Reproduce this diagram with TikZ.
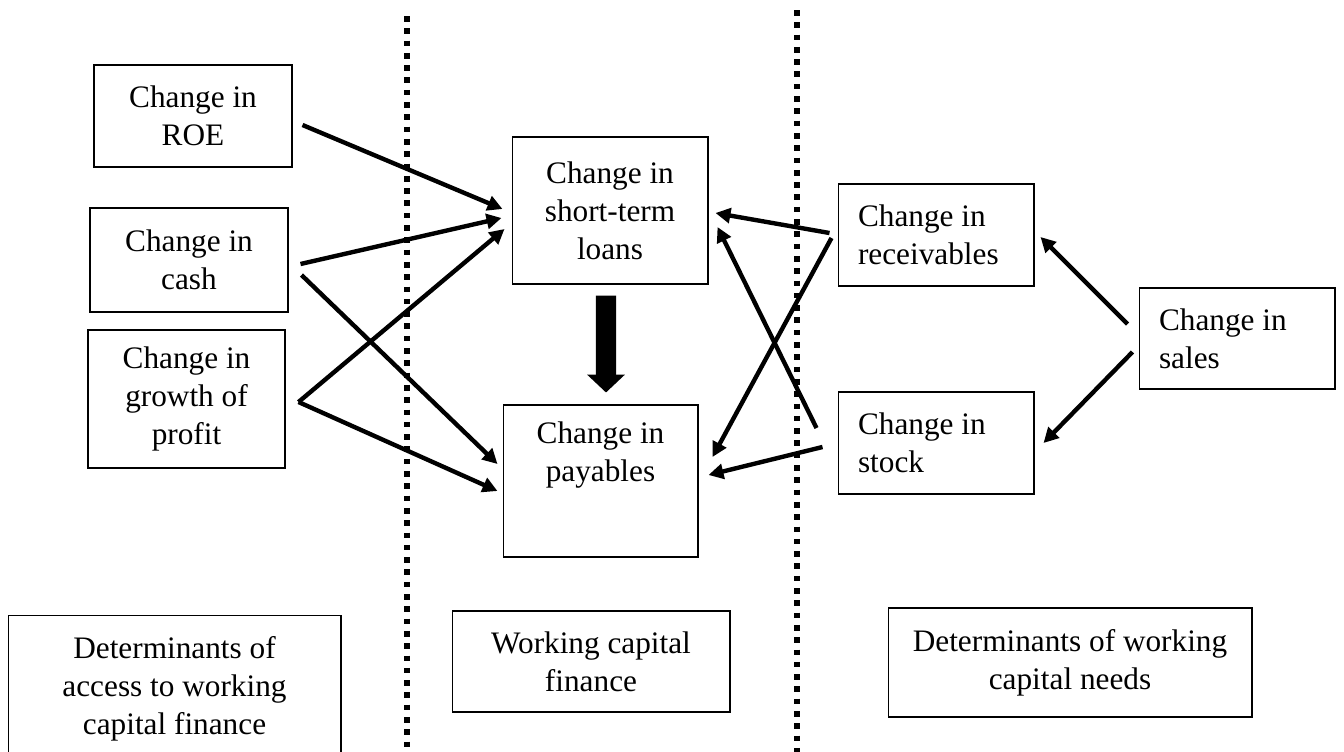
\documentclass[tikz,border=0pt]{standalone}
\usepackage{fontspec}
\setmainfont{Liberation Serif}
\usetikzlibrary{arrows.meta}
\begin{document}
\begin{tikzpicture}[x=0.02cm,y=-0.02cm,
  box/.style={draw=black, line width=0.6pt, inner sep=0pt, align=center,
    font=\fontsize{17.8}{21.6}\selectfont},
  rbox/.style={box, align=flush left, text width=3.12cm, inner xsep=0.4cm},
  txt/.style={inner sep=0pt, align=center, font=\fontsize{17.8}{21.6}\selectfont},
  arr/.style={line width=2.5pt, -{Triangle[length=8.5pt,width=8.5pt]}},
  bigarr/.style={line width=11.4pt, -{Triangle[length=10.2pt,width=21pt]}},
  dots/.style={line width=3.2pt, dash pattern=on 3.2pt off 3.8pt}]
\useasboundingbox (0,0) rectangle (1344,751);
\clip (0,0) rectangle (1344,751);

% dotted separators
\coordinate (d1t) at (407,16);
\coordinate (d1b) at (407,760);
\coordinate (d2t) at (797,10);
\coordinate (d2b) at (797,760);
\draw[dots] (d1t) -- (d1b);
\draw[dots] (d2t) -- (d2b);

% left column
\node[box, minimum width=3.96cm, minimum height=2.04cm] (roe) at (193,116) {Change in\\ROE};
\node[box, minimum width=3.96cm, minimum height=2.08cm] (cash) at (189,260) {Change in\\cash};
\node[box, minimum width=3.94cm, minimum height=2.76cm] (growth) at (186.5,399) {Change in\\growth of\\profit};

% middle column
\node[box, minimum width=3.92cm, minimum height=2.94cm] (loans) at (610,210.5) {Change in\\short-term\\loans};
\node[box, minimum width=3.90cm, minimum height=3.04cm] (pay) at (600.5,481) {};
\node[txt, anchor=north] (paytxt) at ([yshift=-16.6*0.02cm]pay.north) {Change in\\payables};

% right column
\node[rbox, minimum height=2.04cm] (rec) at (936,235) {Change in\\receivables};
\node[rbox, minimum height=2.04cm] (stock) at (936,443) {Change in\\stock};
\node[rbox, minimum height=2.02cm] (sales) at (1237,338.5) {Change in\\sales};

% bottom captions
\node[box, minimum width=6.66cm, minimum height=2.96cm] (capL) at (174.5,689) {Determinants of\\access to working\\capital finance};
\node[box, minimum width=5.56cm, minimum height=2.02cm] (capM) at (591,661.5) {Working capital\\finance};
\node[box, minimum width=7.28cm, minimum height=2.18cm] (capR) at (1070,662.5) {Determinants of working\\capital needs};

% connectors
\draw[arr] ([shift={(10,9)}]roe.east) -- ([shift={(-9,-1.5)}]loans.west);
\draw[arr] ([shift={(12,4)}]cash.east) -- ([shift={(-10,7.5)}]loans.west);
\draw[arr] ([shift={(13,15)}]cash.east) -- ([shift={(-5,-17)}]pay.west);
\draw[arr] ([shift={(13,3)}]growth.east) -- ([shift={(-7,18.5)}]loans.west);
\draw[arr] ([shift={(13,3)}]growth.east) -- ([shift={(-5,10)}]pay.west);

\draw[arr] ([shift={(-8,-2)}]rec.west) -- ([shift={(7,2.5)}]loans.east);
\draw[arr] ([shift={(-6,3)}]rec.west) -- ([shift={(14,-24)}]pay.east);
\draw[arr] ([shift={(-21,-15)}]stock.west) -- ([shift={(9,16.5)}]loans.east);
\draw[arr] ([shift={(-15,4)}]stock.west) -- ([shift={(10,-6)}]pay.east);

\draw[arr] ([shift={(-11,-14.5)}]sales.west) -- ([shift={(6,2)}]rec.east);
\draw[arr] ([shift={(-6,13.5)}]sales.west) -- ([shift={(9,0)}]stock.east);

\draw[bigarr] ([shift={(-4,11)}]loans.south) -- ([shift={(5.5,-12)}]pay.north);
\end{tikzpicture}
\end{document}
